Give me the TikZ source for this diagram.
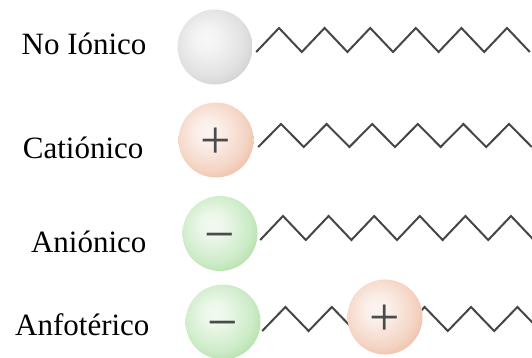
\documentclass[tikz,border=0pt]{standalone}
\usepackage{fontspec}
\setmainfont{Liberation Serif}
\usetikzlibrary{backgrounds}

\definecolor{neutralrim}{RGB}{178,178,178}
\definecolor{catrim}{RGB}{228,148,108}
\definecolor{anrim}{RGB}{126,204,112}
\definecolor{chargegray}{RGB}{75,75,75}
\definecolor{tailgray}{RGB}{70,70,70}

% sphere shading, light spot slightly up and left
\colorlet{rimcol}{neutralrim}
\pgfdeclareradialshading[rimcol]{headshade}{\pgfpoint{-6bp}{6bp}}{%
  color(0bp)=(rimcol!10); color(8bp)=(rimcol!15); color(24bp)=(rimcol!40);
  color(38bp)=(rimcol!78); color(47bp)=(rimcol); color(70bp)=(rimcol)}

\begin{document}
\begin{tikzpicture}[x=1pt, y=-1pt,
  head/.style={circle, minimum size=75, inner sep=0pt, shade, shading=headshade,
               text=chargegray, font=\fontsize{54}{54}\selectfont,
               text height=37pt, text depth=0pt},
  rim/.code={\colorlet{rimcol}{#1}},
  lbl/.style={anchor=base east, font=\fontsize{31}{36}\selectfont},
  tailline/.style={draw=tailgray, line width=2pt},
]
  \useasboundingbox (0,0) rectangle (532,358);

  % polar heads
  \node[head, rim=neutralrim] (nion) at (215,47) {};
  \node[head, rim=catrim] (cat) at (216,140) {+};
  \node[head, rim=anrim] (an) at (220,233.5) {−};
  \node[head, rim=anrim] (anfneg) at (223,322) {−};
  \coordinate (anfend) at (540.4,331);

  % labels
  \node[lbl] (lnion) at (150,55) {No Iónico};
  \node[lbl] (lcat) at (147,158) {Catiónico};
  \node[lbl] (lan) at (150,252) {Aniónico};
  \node[lbl] (lanf) at (153,335) {Anfotérico};

  % hydrocarbon tails
  \begin{scope}[on background layer]
    \draw[tailline] ([shift={(3.5,5)}]nion.east)
      \foreach \i in {1,...,12} { -- ++(22.8,{24-48*mod(\i,2)}) };
    \draw[tailline] ([shift={(4.5,7)}]cat.east)
      \foreach \i in {1,...,12} { -- ++(22.8,{23-46*mod(\i,2)}) };
    \draw[tailline] ([shift={(2.5,6.5)}]an.east)
      \foreach \i in {1,...,12} { -- ++(22.8,{24-48*mod(\i,2)}) };
    \draw[tailline] ([shift={(1.5,9)}]anfneg.east)
      \foreach \i in {1,...,12} { -- ++(23.2,{24-48*mod(\i,2)}) };
  \end{scope}

  % positive head sitting on the tail
  \node[head, rim=catrim] (anfpos) at (385,317) {+};
\end{tikzpicture}
\end{document}
